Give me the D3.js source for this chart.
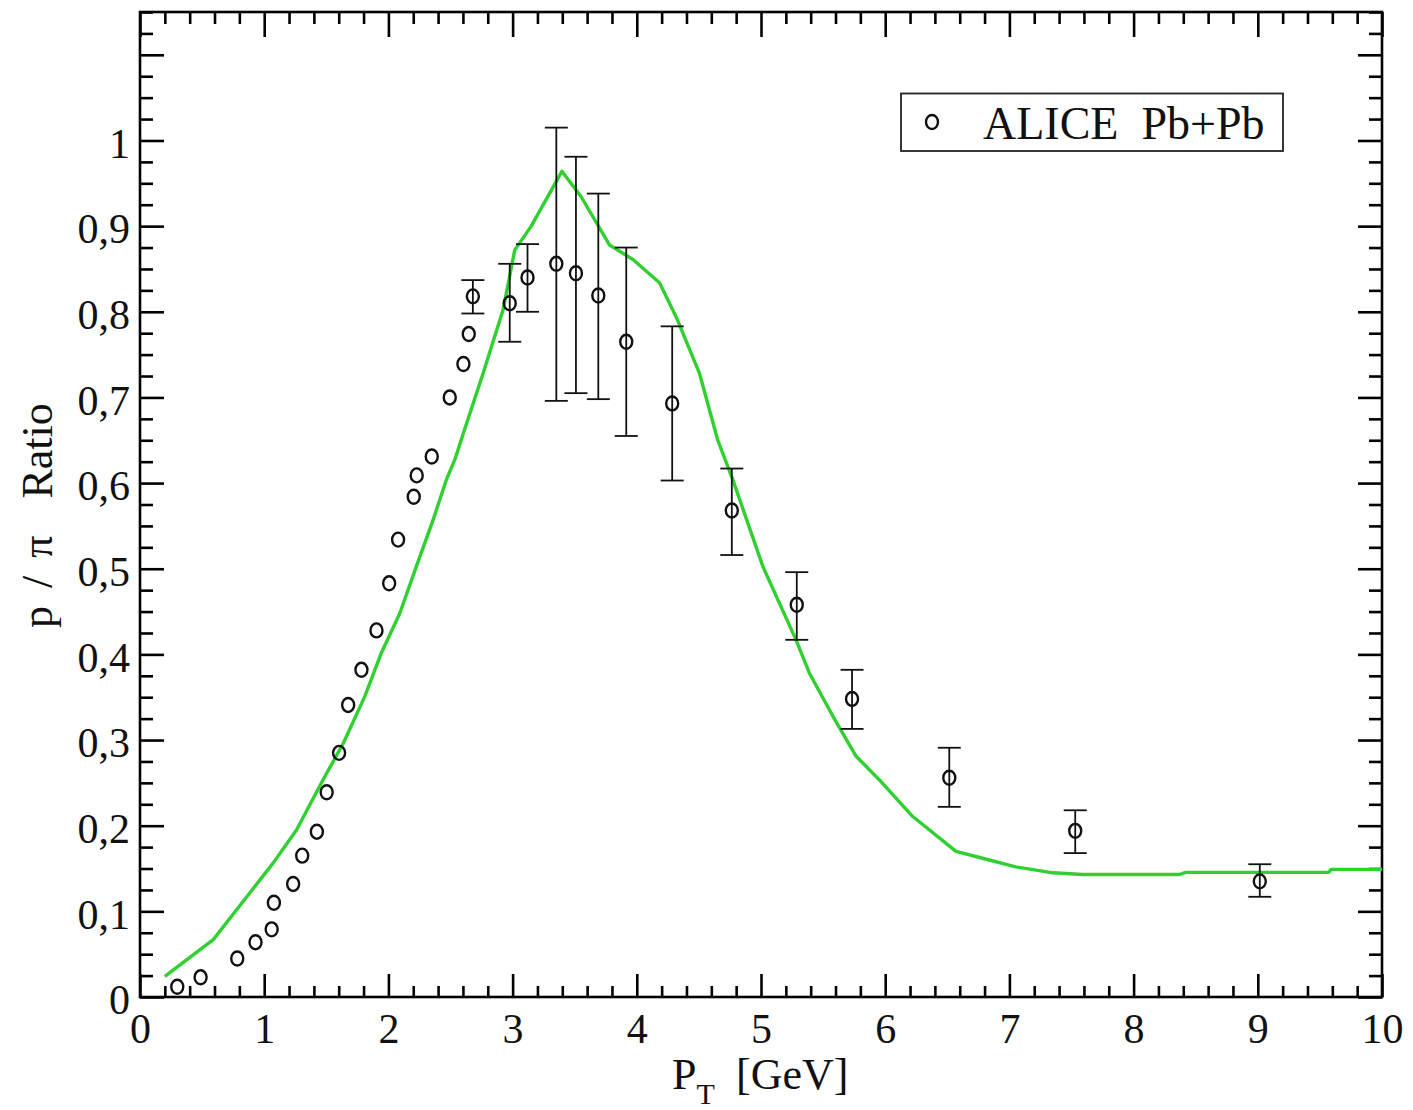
<!DOCTYPE html>
<html>
<head>
<meta charset="utf-8">
<script src="https://cdn.jsdelivr.net/npm/d3@7"></script>
<style>
  html, body { margin: 0; padding: 0; background: #fff; }
  svg { display: block; }
  text { font-family: "Liberation Serif", "Times New Roman", serif; fill: #111; }
</style>
</head>
<body>
<script>
// ---------- data ----------
const dataX = [0.30,0.488,0.783,0.93,1.06,1.078,1.233,1.306,1.424,1.503,1.603,1.676,1.783,1.904,2.006,2.078,2.204,2.228,2.349,2.494,2.604,2.647,2.68,2.977,3.12,3.352,3.51,3.69,3.915,4.285,4.765,5.288,5.733,6.516,7.53,9.016];
const dataY = [0.012,0.023,0.045,0.064,0.079,0.110,0.132,0.165,0.193,0.239,0.285,0.341,0.382,0.428,0.483,0.534,0.584,0.609,0.631,0.700,0.739,0.774,0.818,0.810,0.840,0.856,0.845,0.819,0.765,0.693,0.568,0.458,0.348,0.256,0.194,0.135];
const errHigh = [null,null,null,null,null,null,null,null,null,null,null,null,null,null,null,null,null,null,null,null,null,null,0.837,0.856,0.879,1.015,0.981,0.938,0.875,0.783,0.617,0.496,0.382,0.291,0.218,0.155];
const errLow  = [null,null,null,null,null,null,null,null,null,null,null,null,null,null,null,null,null,null,null,null,null,null,0.798,0.765,0.800,0.696,0.705,0.698,0.655,0.603,0.516,0.417,0.313,0.222,0.168,0.117];

const modelX = [0.2,0.59,0.80,1.07,1.26,1.475,1.636,1.81,1.944,2.092,2.226,2.36,2.467,2.534,2.61,2.762,2.923,3.017,3.15,3.397,3.553,3.78,3.969,4.183,4.317,4.505,4.652,4.773,5.014,5.282,5.39,5.578,5.766,5.95,6.22,6.57,6.784,7.05,7.35,7.59,8.37,8.42,9.57,9.59,10.0];
const modelY = [0.024,0.067,0.106,0.156,0.195,0.254,0.296,0.351,0.402,0.448,0.503,0.557,0.604,0.627,0.661,0.728,0.802,0.872,0.900,0.964,0.934,0.878,0.861,0.834,0.794,0.728,0.650,0.604,0.503,0.417,0.378,0.328,0.281,0.254,0.211,0.170,0.162,0.152,0.145,0.143,0.143,0.1455,0.1455,0.149,0.149];

const xTickValues = [0,1,2,3,4,5,6,7,8,9,10];
const xTickLabels = ["0","1","2","3","4","5","6","7","8","9","10"];
const yTickValues = [0,0.1,0.2,0.3,0.4,0.5,0.6,0.7,0.8,0.9,1.0,1.1];
const yTickLabels = ["0","0,1","0,2","0,3","0,4","0,5","0,6","0,7","0,8","0,9","1",""];

const legendLabel = "ALICE  Pb+Pb";
const xTitle = "P";
const xTitleSub = "T";
const xTitleRest = "[GeV]";
const yTitleA = "p / \u03c0";
const yTitleB = "Ratio";

// ---------- layout ----------
const W = 1413, H = 1110;
const L = 140, T = 12, R = 1382, B = 997;

const svg = d3.select("body").append("svg").attr("width", W).attr("height", H);

const x = d3.scaleLinear().domain([0, 10]).range([L, R]);
const y = d3.scaleLinear().domain([0, 1.15]).range([B, T]);

const xMinor = d3.range(0, 10.0001, 0.2).filter(v => Math.abs(v - Math.round(v)) > 1e-6);
const yMinor = d3.range(0, 1.15001, 0.025).filter(v => Math.abs(v*10 - Math.round(v*10)) > 1e-6);

function styleAxis(g) {
  g.select(".domain").remove();
  g.selectAll(".tick line").attr("stroke", "#000").attr("stroke-width", 2.6);
}

const xFmt = d => xTickLabels[xTickValues.findIndex(v => Math.abs(v - d) < 1e-9)] || "";
const yFmt = d => yTickLabels[yTickValues.findIndex(v => Math.abs(v - d) < 1e-9)] || "";

// bottom
svg.append("g").attr("transform", `translate(0,${B})`)
  .call(d3.axisBottom(x).tickValues(xMinor).tickSize(-11).tickFormat(""))
  .call(styleAxis);
const gxb = svg.append("g").attr("transform", `translate(0,${B})`)
  .call(d3.axisBottom(x).tickValues(xTickValues).tickSize(-23).tickFormat(xFmt))
  .call(styleAxis);
gxb.selectAll(".tick text").attr("y", 46).attr("dy", 0)
  .style("font-size", "42px").style("font-family", "Liberation Serif, serif").attr("fill", "#111");
// top
svg.append("g").attr("transform", `translate(0,${T})`)
  .call(d3.axisTop(x).tickValues(xMinor).tickSize(-12).tickFormat(""))
  .call(styleAxis);
svg.append("g").attr("transform", `translate(0,${T})`)
  .call(d3.axisTop(x).tickValues(xTickValues).tickSize(-25).tickFormat(""))
  .call(styleAxis);
// left
svg.append("g").attr("transform", `translate(${L},0)`)
  .call(d3.axisLeft(y).tickValues(yMinor).tickSize(-13).tickFormat(""))
  .call(styleAxis);
const gyl = svg.append("g").attr("transform", `translate(${L},0)`)
  .call(d3.axisLeft(y).tickValues(yTickValues).tickSize(-24).tickFormat(yFmt))
  .call(styleAxis);
gyl.selectAll(".tick text").attr("x", -10).attr("dy", "0.4em")
  .style("font-size", "42px").style("font-family", "Liberation Serif, serif").attr("fill", "#111");
// right
svg.append("g").attr("transform", `translate(${R},0)`)
  .call(d3.axisRight(y).tickValues(yMinor).tickSize(-13).tickFormat(""))
  .call(styleAxis);
svg.append("g").attr("transform", `translate(${R},0)`)
  .call(d3.axisRight(y).tickValues(yTickValues).tickSize(-24).tickFormat(""))
  .call(styleAxis);

// frame
svg.append("rect").attr("x", L).attr("y", T).attr("width", R - L).attr("height", B - T)
  .attr("fill", "none").attr("stroke", "#000").attr("stroke-width", 2.6);

// model line
const line = d3.line().x((d, i) => x(modelX[i])).y((d, i) => y(modelY[i]));
svg.append("path").datum(modelX).attr("d", line)
  .attr("fill", "none").attr("stroke", "#30d030").attr("stroke-width", 3.4)
  .attr("stroke-linejoin", "round");

// error bars
const idx = d3.range(dataX.length).filter(i => errHigh[i] != null);
const eg = svg.append("g").attr("stroke", "#111").attr("stroke-width", 1.8);
idx.forEach(i => {
  const cx = x(dataX[i]);
  eg.append("line").attr("x1", cx).attr("x2", cx).attr("y1", y(errLow[i])).attr("y2", y(errHigh[i]));
  eg.append("line").attr("x1", cx - 11.5).attr("x2", cx + 11.5).attr("y1", y(errLow[i])).attr("y2", y(errLow[i]));
  eg.append("line").attr("x1", cx - 11.5).attr("x2", cx + 11.5).attr("y1", y(errHigh[i])).attr("y2", y(errHigh[i]));
});

// markers
svg.append("g").selectAll("ellipse").data(dataX).join("ellipse")
  .attr("cx", (d, i) => x(dataX[i])).attr("cy", (d, i) => y(dataY[i]))
  .attr("rx", 6).attr("ry", 7)
  .attr("fill", "none").attr("stroke", "#111").attr("stroke-width", 2.4);

// legend
svg.append("rect").attr("x", 901).attr("y", 93.5).attr("width", 382).attr("height", 57.5)
  .attr("fill", "#fff").attr("stroke", "#222").attr("stroke-width", 1.8);
svg.append("ellipse").attr("cx", 932).attr("cy", 122).attr("rx", 6).attr("ry", 7)
  .attr("fill", "none").attr("stroke", "#111").attr("stroke-width", 2.4);
svg.append("text").attr("x", 983).attr("y", 139).style("font-size", "46px")
  .style("white-space", "pre").attr("xml:space", "preserve").text(legendLabel);

// x title
const xt = svg.append("text").attr("x", 672).attr("y", 1089).style("font-size", "44px");
xt.append("tspan").text(xTitle);
xt.append("tspan").attr("dy", 15).style("font-size", "30px").text(xTitleSub);
xt.append("tspan").attr("dy", -15).attr("x", 736).text(xTitleRest);

// y title (rotated; starts at bottom)
const yt = svg.append("text").attr("transform", "translate(52,628) rotate(-90)")
  .attr("x", 0).attr("y", 0).style("font-size", "44px")
  .style("white-space", "pre").attr("xml:space", "preserve");
yt.append("tspan").style("word-spacing", "7px").text(yTitleA);
yt.append("tspan").attr("dx", 26).text(" " + yTitleB);
</script>
</body>
</html>
